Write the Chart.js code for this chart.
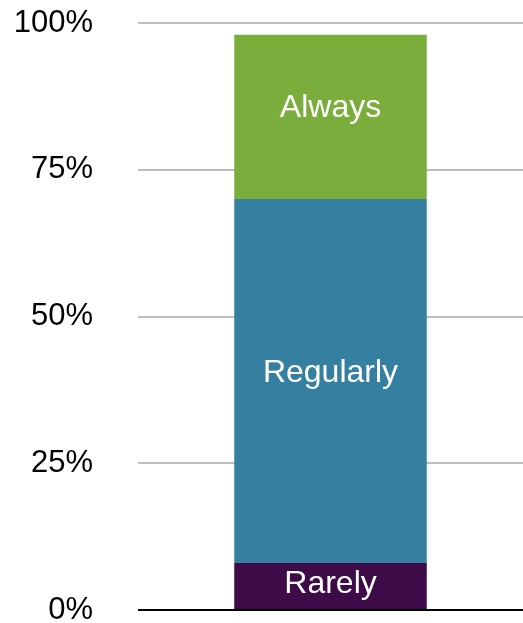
<!DOCTYPE html>
<html>
<head>
<meta charset="utf-8">
<script src="https://cdn.jsdelivr.net/npm/chart.js@4/dist/chart.umd.min.js"></script>
<style>
  html, body { margin: 0; padding: 0; background: #fff; }
  #wrap { width: 523px; height: 623px; position: relative; }
</style>
</head>
<body>
<div id="wrap"><canvas id="chart"></canvas></div>
<script>
// Share of responses per frequency, stacked in one column
const categories = [''];
const seriesNames = ['Rarely', 'Regularly', 'Always'];
const rarely = [8];
const regularly = [62];
const always = [28];
const tickValues = [0, 25, 50, 75, 100];
const seriesColors = ['#3e0a47', '#357fa1', '#7aad3b'];

const FONT = '"Liberation Sans", Arial, Helvetica, sans-serif';
const LABEL_SIZE = 32;

// Writes each series name inside its own segment, slightly above centre
const segmentLabels = {
  id: 'segmentLabels',
  afterDatasetsDraw(chart) {
    const ctx = chart.ctx;
    ctx.save();
    ctx.fillStyle = '#ffffff';
    ctx.font = LABEL_SIZE + 'px ' + FONT;
    ctx.textAlign = 'center';
    ctx.textBaseline = 'alphabetic';
    chart.data.datasets.forEach((ds, i) => {
      const meta = chart.getDatasetMeta(i);
      meta.data.forEach(bar => {
        const h = Math.abs(bar.base - bar.y);
        const capMid = (bar.y + bar.base) / 2 - Math.min(11, h * 0.1);
        ctx.fillText(ds.label, bar.x, capMid + 0.358 * LABEL_SIZE);
      });
    });
    ctx.restore();
  }
};

new Chart(document.getElementById('chart'), {
  type: 'bar',
  data: {
    labels: categories,
    datasets: [
      { label: seriesNames[0], data: rarely, backgroundColor: seriesColors[0] },
      { label: seriesNames[1], data: regularly, backgroundColor: seriesColors[1] },
      { label: seriesNames[2], data: always, backgroundColor: seriesColors[2] }
    ]
  },
  options: {
    responsive: true,
    maintainAspectRatio: false,
    animation: false,
    layout: { padding: { top: 23, bottom: 13, left: 0, right: 0 } },
    datasets: { bar: { barPercentage: 1, categoryPercentage: 0.5, borderWidth: 0 } },
    plugins: { legend: { display: false }, tooltip: { enabled: false } },
    scales: {
      x: { stacked: true, display: false },
      y: {
        stacked: true,
        min: 0,
        max: 100,
        afterBuildTicks(scale) {
          scale.ticks = tickValues.map(v => ({ value: v }));
        },
        afterFit(scale) {
          scale.width = 138;
          scale.paddingTop = 0;
          scale.paddingBottom = 0;
        },
        border: { display: false },
        grid: {
          drawTicks: false,
          lineWidth: 2,
          color: ctx => (ctx.tick && ctx.tick.value === 0 ? '#000000' : '#bdbdbd')
        },
        ticks: {
          padding: 45,
          color: '#000000',
          font: { family: FONT, size: 31 },
          callback: v => v + '%'
        }
      }
    }
  },
  plugins: [segmentLabels]
});
</script>
</body>
</html>
